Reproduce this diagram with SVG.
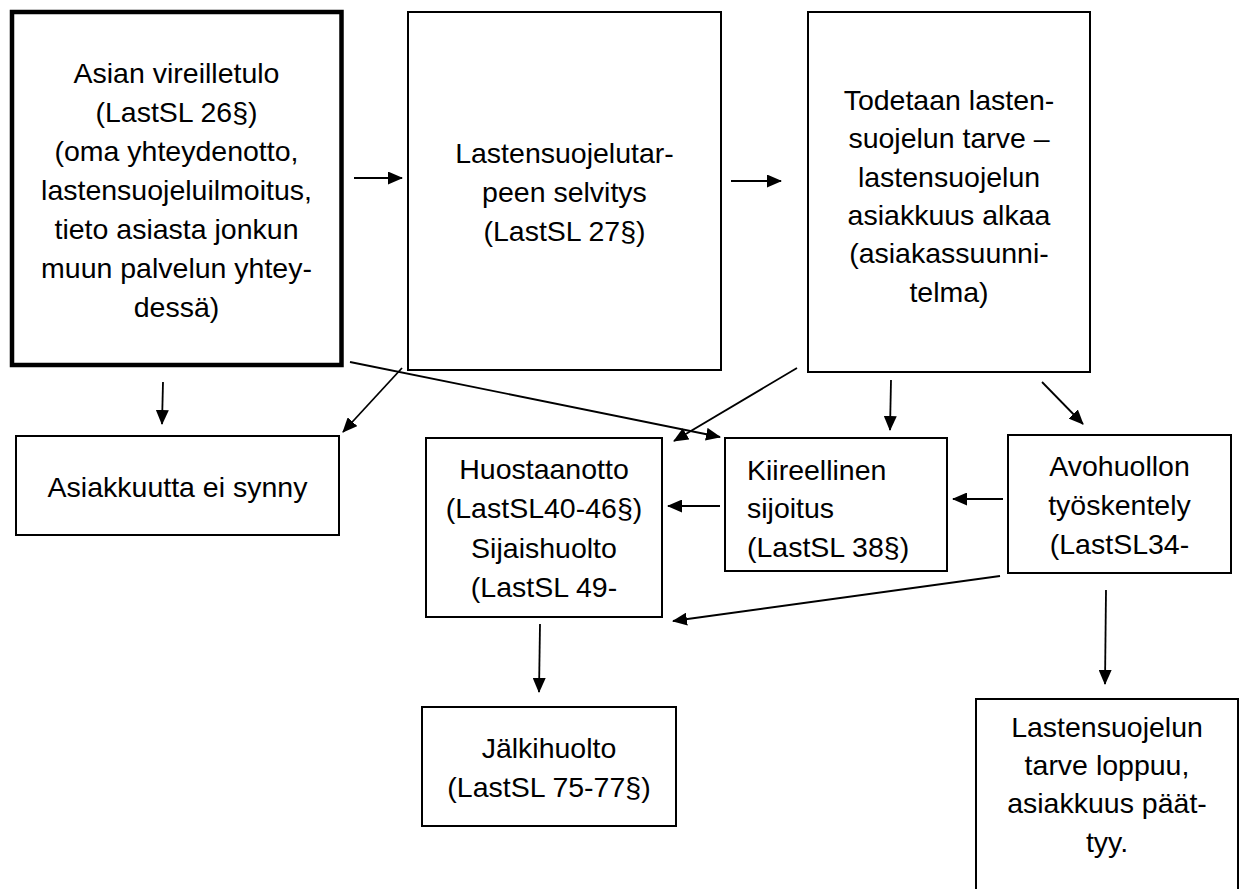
<svg xmlns="http://www.w3.org/2000/svg" width="1245" height="889" viewBox="0 0 1245 889">
<style>
.box{fill:#fff;stroke:#000;stroke-width:2}
.thick{stroke-width:4.5}
text{font-family:"Liberation Sans",Arial,sans-serif;font-size:28.5px;fill:#000}
.c{text-anchor:middle}
.con line{stroke:#000;stroke-width:1.8;marker-end:url(#ah)}
</style>
<defs>
<marker id="ah" markerUnits="userSpaceOnUse" markerWidth="15" markerHeight="13" refX="14" refY="6.5" orient="auto">
<path d="M0,0 L15,6.5 L0,13 z" fill="#000"/>
</marker>
</defs>
<rect width="1245" height="889" fill="#fff"/>
<g id="n1">
<rect class="box thick" x="12" y="12" width="329.5" height="353"/>
<text class="c" x="176.5" y="83">Asian vireilletulo</text>
<text class="c" x="176.5" y="122">(LastSL 26§)</text>
<text class="c" x="176.5" y="161">(oma yhteydenotto,</text>
<text class="c" x="176.5" y="200">lastensuojeluilmoitus,</text>
<text class="c" x="176.5" y="239">tieto asiasta jonkun</text>
<text class="c" x="176.5" y="278">muun palvelun yhtey-</text>
<text class="c" x="176.5" y="317">dessä)</text>
</g>
<g id="n2">
<rect class="box" x="408" y="12" width="313" height="358"/>
<text class="c" x="564.5" y="163">Lastensuojelutar-</text>
<text class="c" x="564.5" y="202">peen selvitys</text>
<text class="c" x="564.5" y="241">(LastSL 27§)</text>
</g>
<g id="n3">
<rect class="box" x="808" y="12" width="282" height="360"/>
<text class="c" x="949" y="110">Todetaan lasten-</text>
<text class="c" x="949" y="148">suojelun tarve –</text>
<text class="c" x="949" y="187">lastensuojelun</text>
<text class="c" x="949" y="225">asiakkuus alkaa</text>
<text class="c" x="949" y="263">(asiakassuunni-</text>
<text class="c" x="949" y="302">telma)</text>
</g>
<g id="n4">
<rect class="box" x="16" y="436" width="323" height="99"/>
<text class="c" x="177.5" y="497">Asiakkuutta ei synny</text>
</g>
<g id="n5">
<rect class="box" x="426" y="438" width="236" height="179"/>
<text class="c" x="544" y="479">Huostaanotto</text>
<text class="c" x="544" y="518">(LastSL40-46§)</text>
<text class="c" x="544" y="558">Sijaishuolto</text>
<text class="c" x="544" y="597">(LastSL 49-</text>
</g>
<g id="n6">
<rect class="box" x="725" y="438" width="222" height="133"/>
<text x="747" y="480">Kiireellinen</text>
<text x="747" y="518">sijoitus</text>
<text x="747" y="557">(LastSL 38§)</text>
</g>
<g id="n7">
<rect class="box" x="1008" y="435" width="223" height="138"/>
<text class="c" x="1119.5" y="476">Avohuollon</text>
<text class="c" x="1119.5" y="515">työskentely</text>
<text class="c" x="1119.5" y="554">(LastSL34-</text>
</g>
<g id="n8">
<rect class="box" x="422" y="707" width="254" height="119"/>
<text class="c" x="549" y="758">Jälkihuolto</text>
<text class="c" x="549" y="797">(LastSL 75-77§)</text>
</g>
<g id="n9">
<rect class="box" x="976" y="699" width="262" height="210"/>
<text class="c" x="1107" y="737">Lastensuojelun</text>
<text class="c" x="1107" y="775">tarve loppuu,</text>
<text class="c" x="1107" y="813">asiakkuus päät-</text>
<text class="c" x="1107" y="852">tyy.</text>
</g>
<g id="connectors" class="con">
<line x1="354" y1="178" x2="402" y2="178"/>
<line x1="731" y1="181" x2="781" y2="181"/>
<line x1="163" y1="382" x2="162" y2="424"/>
<line x1="402" y1="368" x2="343" y2="432"/>
<line x1="350" y1="362" x2="720" y2="437"/>
<line x1="797" y1="368" x2="674" y2="441"/>
<line x1="891" y1="380" x2="890" y2="430"/>
<line x1="1042" y1="382" x2="1083" y2="424"/>
<line x1="1003" y1="499" x2="953" y2="499"/>
<line x1="720" y1="506" x2="668" y2="506"/>
<line x1="1000" y1="576" x2="673" y2="621"/>
<line x1="540" y1="624" x2="539" y2="692"/>
<line x1="1106" y1="590" x2="1105" y2="684"/>
</g>
</svg>
